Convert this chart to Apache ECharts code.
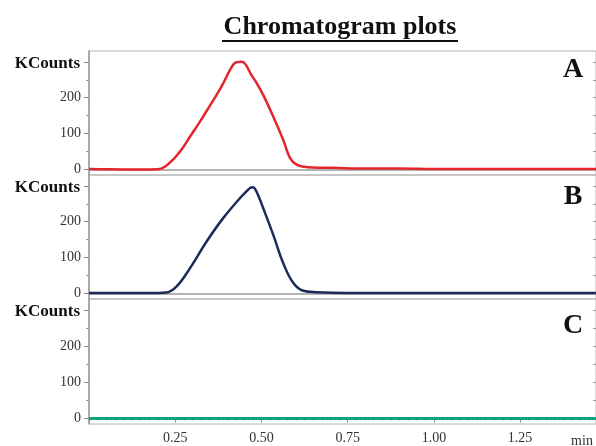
<!DOCTYPE html>
<html>
<head>
<meta charset="utf-8">
<style>
  html, body { margin: 0; padding: 0; background: #fff; }
  #chart { width: 596px; height: 446px; }
</style>
<script src="https://cdn.jsdelivr.net/npm/echarts@6/dist/echarts.min.js"></script>
</head>
<body>
<div id="chart"></div>
<script>
// ---- data (time in min, signal in KCounts) ----
const panelNames = ['A', 'B', 'C'];
const xTickValues = [0.25, 0.50, 0.75, 1.00, 1.25];
const yLabelValues = [0, 100, 200, 300];
const yMinorValues = [50, 150, 250];
const yAllTickValues = [0, 50, 100, 150, 200, 250, 300];

const seriesA = [
  [0, 2], [0.05, 1], [0.10, 0.5], [0.15, 0.5], [0.20, 1], [0.22, 8], [0.244, 28],
  [0.27, 58], [0.293, 92], [0.318, 128], [0.341, 163], [0.365, 200], [0.388, 238],
  [0.402, 265], [0.414, 286], [0.422, 296], [0.43, 299], [0.44, 300], [0.45, 297],
  [0.46, 283], [0.468, 268], [0.486, 241], [0.505, 208], [0.534, 148], [0.563, 83],
  [0.583, 32], [0.602, 14], [0.625, 8], [0.649, 6], [0.707, 5], [0.80, 3],
  [0.90, 3], [1.00, 2], [1.10, 2], [1.20, 2], [1.30, 2], [1.40, 2], [1.47, 2]
];
const seriesB = [
  [0, 2], [0.10, 2], [0.20, 2], [0.225, 3], [0.254, 20], [0.293, 71], [0.341, 145],
  [0.389, 210], [0.438, 266], [0.455, 283], [0.467, 294], [0.475, 296], [0.481, 292],
  [0.492, 270], [0.505, 238], [0.534, 164], [0.563, 85], [0.592, 30], [0.621, 8],
  [0.66, 4], [0.75, 2], [0.90, 2], [1.10, 2], [1.30, 2], [1.47, 2]
];
const seriesC = [
  [0, 0], [0.25, 0], [0.50, 0], [0.75, 0], [1.00, 0], [1.25, 0], [1.47, 0]
];
const allSeries = [seriesA, seriesB, seriesC];
const colors = ['#e3262c', '#1c2b5a', '#10a37c'];

// ---- layout ----
const FONT = 'Liberation Serif';
const gridTops = [51, 175, 299];
const gridHeights = [124, 124, 125];
const X_MAX = 1.47;
const Y_MIN = -15, Y_MAX = 330;

const grids = [], xAxes = [], yAxes = [], series = [];
for (let i = 0; i < 3; i++) {
  const last = i === 2;
  grids.push({
    left: 89, right: 0, top: gridTops[i], height: gridHeights[i],
    show: true, borderColor: '#b4b4b4', borderWidth: 1, backgroundColor: 'transparent'
  });
  xAxes.push({
    type: 'value', gridIndex: i, min: 0, max: X_MAX, interval: 0.25,
    axisLine: { show: true, lineStyle: { color: '#9a9a9a', width: 1.5 } },
    axisTick: { show: last, length: 4, lineStyle: { color: '#8a8a8a' } },
    minorTick: { show: last, splitNumber: 10, length: 2, lineStyle: { color: '#9a9a9a' } },
    axisLabel: {
      show: last, showMinLabel: false, showMaxLabel: false, margin: 7,
      fontFamily: FONT, fontSize: 14, color: '#333',
      formatter: v => v.toFixed(2)
    },
    splitLine: { show: false }
  });
  const base = yAxes.length;
  yAxes.push({
    type: 'value', gridIndex: i, min: Y_MIN, max: Y_MAX, position: 'left',
    axisLine: { show: true, lineStyle: { color: '#9a9a9a', width: 1.5 } },
    axisTick: { show: true, length: 5, customValues: yLabelValues, lineStyle: { color: '#8a8a8a' } },
    axisLabel: {
      customValues: yLabelValues, margin: 8,
      fontFamily: FONT, fontSize: 14, color: '#333',
      formatter: v => v === 300 ? '{k|KCounts}' : String(v),
      rich: { k: { fontFamily: FONT, fontSize: 17, fontWeight: 'bold', color: '#111', padding: [3, 1, 0, 0] } }
    },
    splitLine: { show: false }
  });
  yAxes.push({
    type: 'value', gridIndex: i, min: Y_MIN, max: Y_MAX, position: 'left',
    axisLine: { show: false },
    axisTick: { show: true, length: 3, customValues: yMinorValues, lineStyle: { color: '#9a9a9a' } },
    axisLabel: { show: false },
    splitLine: { show: false }
  });
  yAxes.push({
    type: 'value', gridIndex: i, min: Y_MIN, max: Y_MAX, position: 'right',
    axisLine: { show: false },
    axisTick: { show: true, inside: true, length: 3, customValues: yAllTickValues, lineStyle: { color: '#a0a0a0' } },
    axisLabel: { show: false },
    splitLine: { show: false }
  });
  series.push({
    type: 'line', xAxisIndex: i, yAxisIndex: base,
    data: allSeries[i], showSymbol: false, smooth: 0.4,
    lineStyle: { color: colors[i], width: last ? 3 : 2.5 },
    silent: true
  });
}

const letterY = [70, 197, 326];
const graphics = [
  { type: 'text', style: { text: 'Chromatogram plots', x: 340, y: 27, align: 'center', verticalAlign: 'middle',
             font: 'bold 26px "Liberation Serif"', fill: '#111' } },
  { type: 'line', shape: { x1: 222, y1: 41, x2: 458, y2: 41 }, style: { stroke: '#111', lineWidth: 2 } },
  { type: 'text', style: { text: 'min', x: 582, y: 441, align: 'center', verticalAlign: 'middle',
             font: '14px "Liberation Serif"', fill: '#333' } }
];
panelNames.forEach((n, i) => {
  graphics.push({ type: 'text', style: { text: n, x: 573, y: letterY[i], align: 'center', verticalAlign: 'middle',
    font: 'bold 28px "Liberation Serif"', fill: '#111' } });
});

const chart = echarts.init(document.getElementById('chart'), null, { renderer: 'canvas' });
chart.setOption({
  animation: false,
  backgroundColor: '#fff',
  grid: grids,
  xAxis: xAxes,
  yAxis: yAxes,
  series: series,
  graphic: graphics
});
</script>
</body>
</html>
